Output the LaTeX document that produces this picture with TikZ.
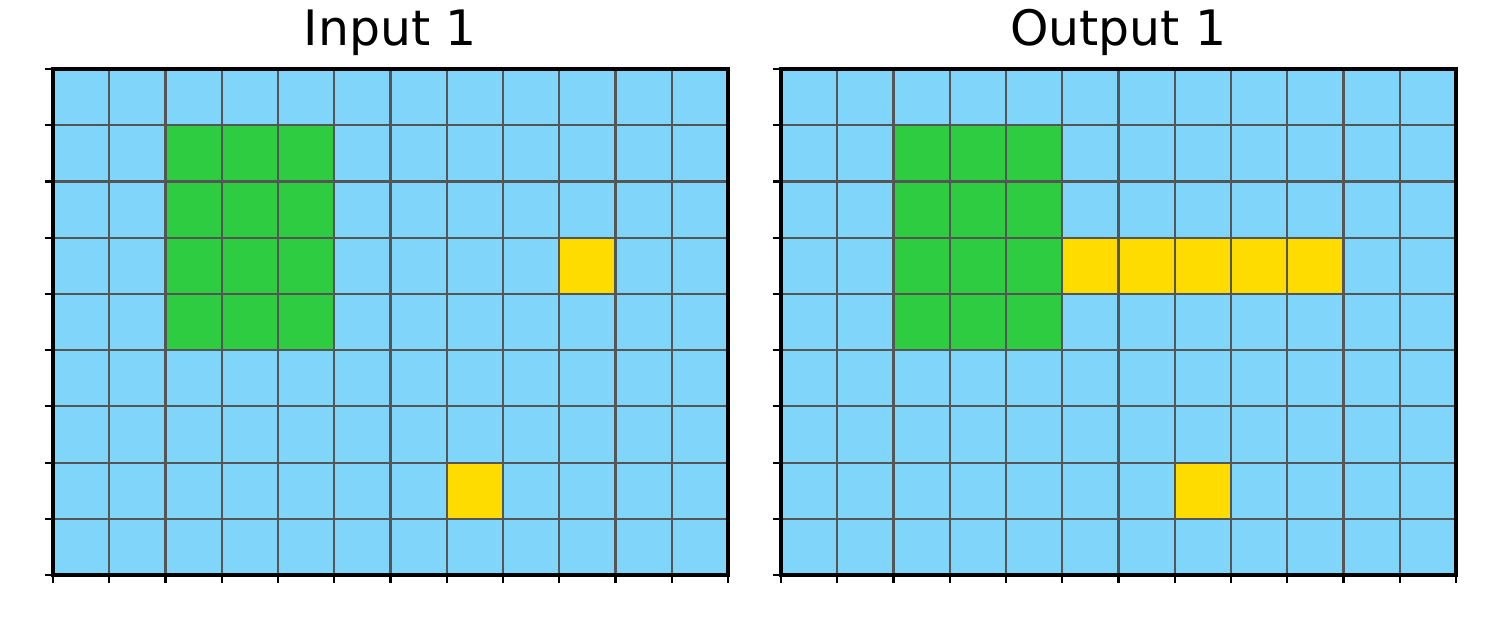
\documentclass[tikz,border=0pt]{standalone}
\usepackage{fontspec}
\setmainfont{DejaVu Sans}
\definecolor{cellblue}{RGB}{128,214,250}
\definecolor{cellgreen}{RGB}{46,204,64}
\definecolor{cellyellow}{RGB}{255,220,0}
\definecolor{gridgray}{RGB}{85,85,85}

\begin{document}
\begin{tikzpicture}[
  ttl/.style={anchor=base,font=\fontsize{13.9}{16}\selectfont},
  board/.style={x=0.5625cm,y=0.5622cm},
  gridln/.style={draw=gridgray,line width=0.6pt},
  frame/.style={draw=black,line width=0.9pt},
  tick/.style={draw=black,line width=0.6pt}
]
  \useasboundingbox (0,0) rectangle (15,6.29);

  % titles
  \node[ttl] (ttlin)  at (3.905,5.83)  {Input 1};
  \node[ttl] (ttlout) at (11.185,5.83) {Output 1};

  % input board
  \begin{scope}[board,shift={(0.53cm,0.54cm)}]
    \fill[cellblue] (0,0) rectangle (12,9);
    \fill[cellgreen] (2,4) rectangle (5,8);
    \fill[cellyellow] (9,5) rectangle (10,6);
    \fill[cellyellow] (7,1) rectangle (8,2);
    \foreach \i in {1,...,11} \draw[gridln] (\i,0) -- (\i,9);
    \foreach \j in {1,...,8} \draw[gridln] (0,\j) -- (12,\j);
    \draw[frame] (0,0) rectangle (12,9);
    \foreach \i in {0,...,12} \draw[tick] (\i,0) -- ++(0,-0.8mm);
    \foreach \j in {0,...,9} \draw[tick] (0,\j) -- ++(-0.8mm,0);
  \end{scope}

  % output board
  \begin{scope}[board,shift={(7.81cm,0.54cm)}]
    \fill[cellblue] (0,0) rectangle (12,9);
    \fill[cellgreen] (2,4) rectangle (5,8);
    \fill[cellyellow] (5,5) rectangle (10,6);
    \fill[cellyellow] (7,1) rectangle (8,2);
    \foreach \i in {1,...,11} \draw[gridln] (\i,0) -- (\i,9);
    \foreach \j in {1,...,8} \draw[gridln] (0,\j) -- (12,\j);
    \draw[frame] (0,0) rectangle (12,9);
    \foreach \i in {0,...,12} \draw[tick] (\i,0) -- ++(0,-0.8mm);
    \foreach \j in {0,...,9} \draw[tick] (0,\j) -- ++(-0.8mm,0);
  \end{scope}
\end{tikzpicture}
\end{document}
